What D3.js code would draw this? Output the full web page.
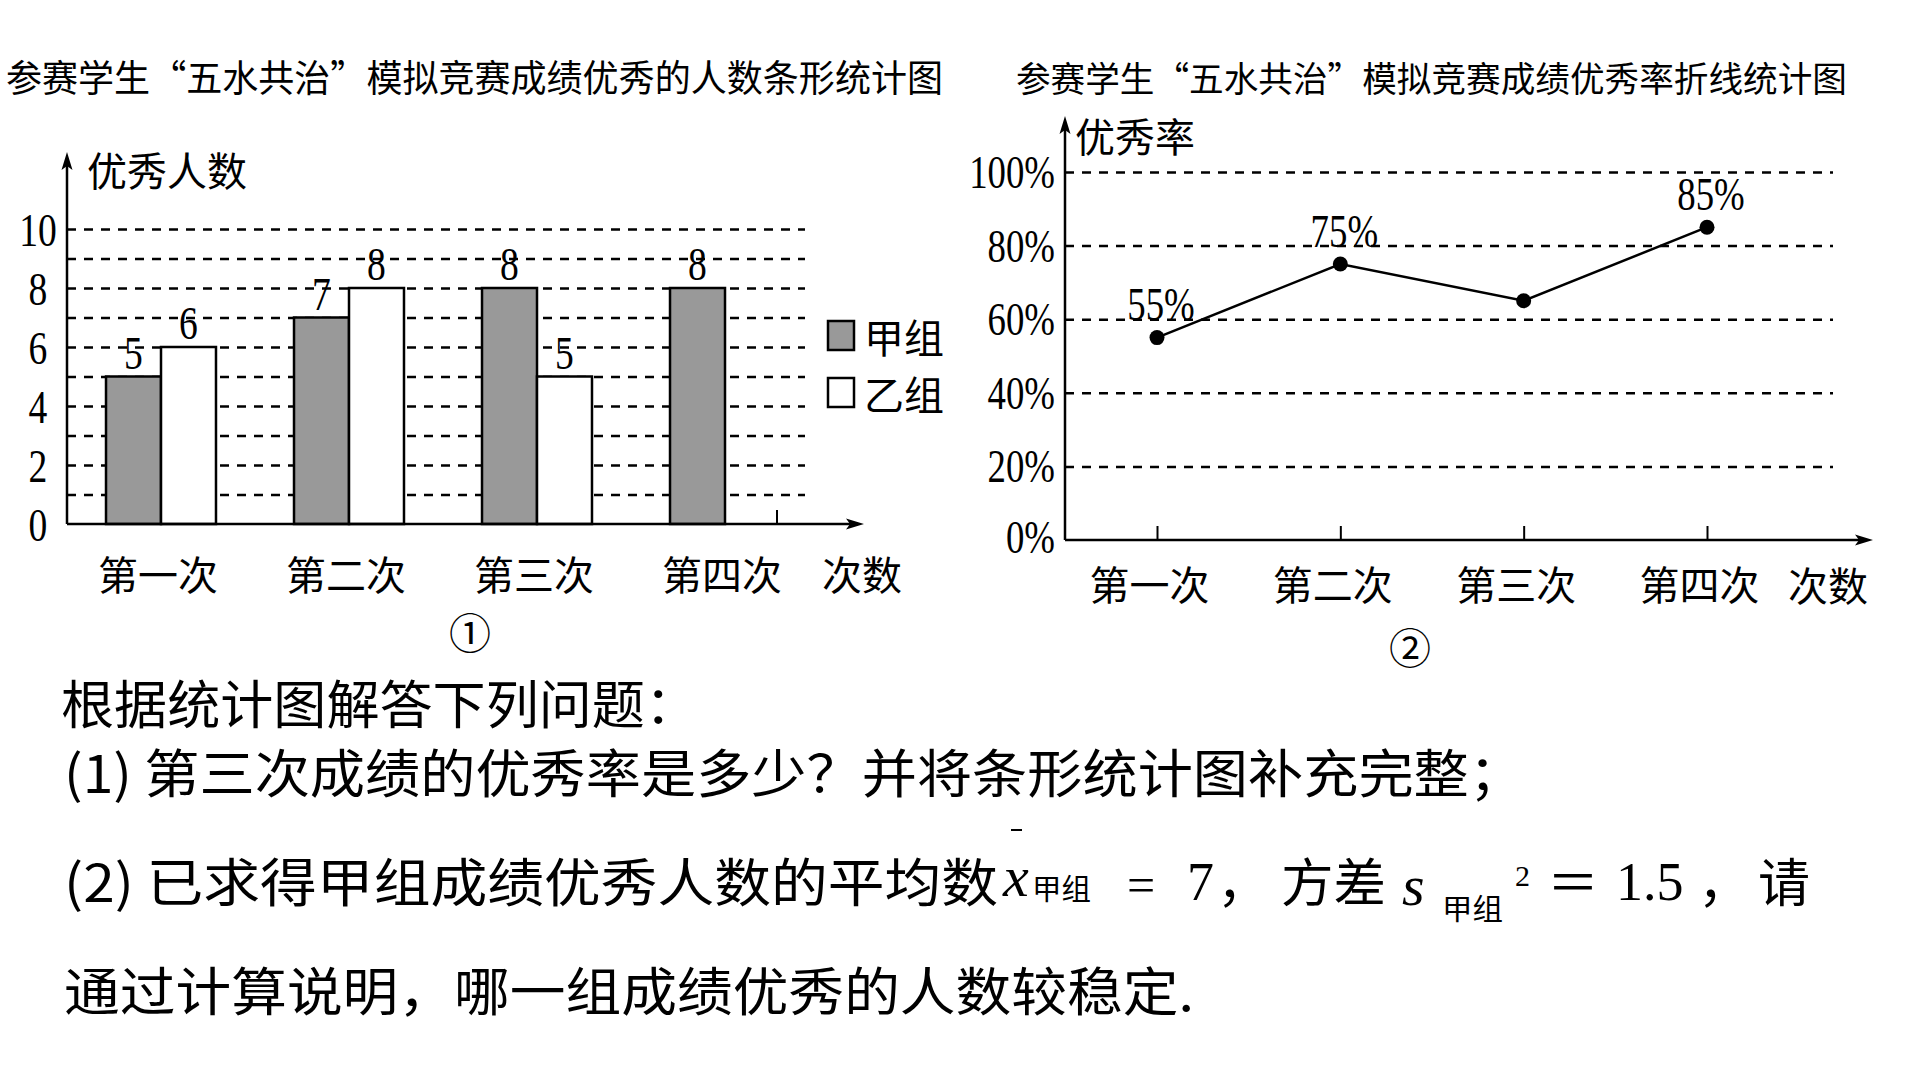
<!DOCTYPE html>
<html>
<head>
<meta charset="utf-8">
<script src="https://cdnjs.cloudflare.com/ajax/libs/d3/7.8.5/d3.min.js"></script>
<style>
  html, body { margin: 0; padding: 0; background: #fff; }
  svg { display: block; }
  .cjk { font-family: "Noto Sans CJK SC", sans-serif; fill: #000; }
  .num { font-family: "Liberation Serif", "Times New Roman", serif; fill: #000; }
</style>
</head>
<body>
<svg id="chart" width="1920" height="1080"></svg>
<script>
// ---- data ----
var categories = ["第一次", "第二次", "第三次", "第四次"];
var groups = ["甲组", "乙组"];
var jiaCounts = [5, 7, 8, 8];
var yiCounts = [6, 8, 5, null];      // 第四次 乙组 is left blank in the picture
var countTicks = [0, 2, 4, 6, 8, 10];

var rates = [55, 75, 65, 85];
var rateLabels = ["55%", "75%", "", "85%"];   // third one is the question
var rateTicks = [0, 20, 40, 60, 80, 100];

var svg = d3.select("#chart");

// squeeze text a little so the serif digits look like the tall narrow ones in the scan
function squeeze(sel, k) {
  sel.each(function() {
    var w = this.getComputedTextLength();
    d3.select(this).attr("textLength", w * k).attr("lengthAdjust", "spacingAndGlyphs");
  });
}

function arrow(g, x, y, dir) {
  // dir: "up" or "right"
  var p = dir == "up"
    ? [[x, y], [x - 5.5, y + 18], [x, y + 14], [x + 5.5, y + 18]]
    : [[x, y], [x - 18, y - 5.5], [x - 14, y], [x - 18, y + 5.5]];
  g.append("path").attr("d", "M" + p.join("L") + "Z").attr("fill", "#000");
}

function dashGrid(g) {
  g.select(".domain").remove();
  g.selectAll(".tick line")
    .attr("stroke", "#000").attr("stroke-width", 2.5)
    .attr("stroke-dasharray", "9,8");
}

/* titles */
svg.append("text").attr("class", "cjk")
  .attr("x", 6).attr("y", 76).attr("dominant-baseline", "central")
  .attr("font-size", 37).attr("textLength", 937).attr("lengthAdjust", "spacingAndGlyphs")
  .text("参赛学生“五水共治”模拟竞赛成绩优秀的人数条形统计图");
svg.append("text").attr("class", "cjk")
  .attr("x", 1016).attr("y", 76).attr("dominant-baseline", "central")
  .attr("font-size", 35).attr("textLength", 831).attr("lengthAdjust", "spacingAndGlyphs")
  .text("参赛学生“五水共治”模拟竞赛成绩优秀率折线统计图");

/* ---------- chart 1: bars ---------- */
var b = svg.append("g");
var x0 = d3.scaleBand().domain(categories).range([67, 67 + 188 * 4])
  .paddingInner(0.415).paddingOuter(0.2075);
var x1 = d3.scaleBand().domain(groups).range([0, x0.bandwidth()]);
var y = d3.scaleLinear().domain([0, 10]).range([524, 229]);

b.append("g").attr("transform", "translate(67,0)")
  .call(d3.axisLeft(y).tickValues(d3.range(1, 11)).tickSize(-(805 - 67)).tickFormat(""))
  .call(dashGrid);

var yl = b.append("g").attr("transform", "translate(67,0)")
  .call(d3.axisLeft(y).tickValues(countTicks).tickSize(0).tickFormat(d3.format("d")));
yl.select(".domain").remove();
yl.selectAll("text")
  .attr("class", "num").attr("x", -29).attr("dy", null)
  .attr("dominant-baseline", "central").attr("text-anchor", "middle")
  .attr("font-size", 47).call(squeeze, 0.8);

var rows = [];
categories.forEach(function(c, i) {
  rows.push({cat: c, grp: "甲组", v: jiaCounts[i]});
  rows.push({cat: c, grp: "乙组", v: yiCounts[i]});
});
rows = rows.filter(function(d) { return d.v != null; });

b.selectAll("rect.bar").data(rows).enter().append("rect")
  .attr("class", "bar")
  .attr("x", function(d) { return x0(d.cat) + x1(d.grp); })
  .attr("y", function(d) { return y(d.v); })
  .attr("width", x1.bandwidth())
  .attr("height", function(d) { return y(0) - y(d.v); })
  .attr("fill", function(d) { return d.grp == "甲组" ? "#999" : "#fff"; })
  .attr("stroke", "#000").attr("stroke-width", 2.5);

b.selectAll("text.val").data(rows).enter().append("text")
  .attr("class", "num val")
  .attr("x", function(d) { return x0(d.cat) + x1(d.grp) + x1.bandwidth() / 2; })
  .attr("y", function(d) { return y(d.v) - 24; })
  .attr("text-anchor", "middle").attr("dominant-baseline", "central")
  .attr("font-size", 47)
  .text(function(d) { return d.v; })
  .call(squeeze, 0.8);

// axes with arrows
b.append("path").attr("d", "M67,524V160").attr("stroke", "#000").attr("stroke-width", 2.5);
arrow(b, 67, 152, "up");
b.append("path").attr("d", "M67,524H858").attr("stroke", "#000").attr("stroke-width", 2.5);
arrow(b, 864, 524, "right");
var endX = x0("第四次") + x0.bandwidth() - 3;
b.append("path").attr("d", "M" + endX + ",524V510").attr("stroke", "#000").attr("stroke-width", 2);

var xl = b.append("g").attr("transform", "translate(0,524)")
  .call(d3.axisBottom(x0).tickSize(0));
xl.select(".domain").remove();
xl.selectAll("text")
  .attr("class", "cjk").attr("x", -3).attr("y", 49).attr("dy", null)
  .attr("dominant-baseline", "central").attr("font-size", 40);
b.append("text").attr("class", "cjk").attr("x", 862).attr("y", 573)
  .attr("text-anchor", "middle").attr("dominant-baseline", "central")
  .attr("font-size", 40).text("次数");
b.append("text").attr("class", "cjk").attr("x", 87).attr("y", 169)
  .attr("dominant-baseline", "central").attr("font-size", 40).text("优秀人数");

// legend
var lg = b.selectAll("g.lg").data(groups).enter().append("g")
  .attr("class", "lg")
  .attr("transform", function(d, i) { return "translate(828," + (321 + i * 57) + ")"; });
lg.append("rect").attr("width", 26).attr("height", 29)
  .attr("fill", function(d) { return d == "甲组" ? "#999" : "#fff"; })
  .attr("stroke", "#000").attr("stroke-width", 2.5);
lg.append("text").attr("class", "cjk").attr("x", 36).attr("y", 15)
  .attr("dominant-baseline", "central").attr("font-size", 40)
  .text(function(d) { return d; });

b.append("text").attr("class", "cjk").attr("x", 470).attr("y", 630)
  .attr("text-anchor", "middle").attr("dominant-baseline", "central")
  .attr("font-size", 42).text("①");

/* ---------- chart 2: line ---------- */
var l = svg.append("g");
var xr = d3.scalePoint().domain(categories).range([1157, 1707]);
var yr = d3.scaleLinear().domain([0, 100]).range([540, 172]);

l.append("g").attr("transform", "translate(1065,0)")
  .call(d3.axisLeft(yr).tickValues(rateTicks.slice(1)).tickSize(-(1833 - 1065)).tickFormat(""))
  .call(dashGrid);

var ryl = l.append("g").attr("transform", "translate(1065,0)")
  .call(d3.axisLeft(yr).tickValues(rateTicks).tickSize(0).tickPadding(10)
    .tickFormat(function(d) { return d + "%"; }));
ryl.select(".domain").remove();
ryl.selectAll("text")
  .attr("class", "num").attr("dy", null).attr("dominant-baseline", "central")
  .attr("font-size", 46).call(squeeze, 0.8);
ryl.selectAll(".tick").filter(function(d) { return d == 0; }).select("text").attr("y", -3);

var rxt = l.append("g").attr("transform", "translate(0,540)")
  .call(d3.axisBottom(xr).tickSize(-14).tickFormat(""));
rxt.select(".domain").remove();
rxt.selectAll(".tick line").attr("stroke", "#000").attr("stroke-width", 2);

var rxl = l.append("g").attr("transform", "translate(0,540)")
  .call(d3.axisBottom(xr).tickSize(0));
rxl.select(".domain").remove();
rxl.selectAll("text")
  .attr("class", "cjk").attr("x", -8).attr("y", 43).attr("dy", null)
  .attr("dominant-baseline", "central").attr("font-size", 40);

var pts = categories.map(function(c, i) { return {cat: c, v: rates[i], label: rateLabels[i]}; });
l.append("path").datum(pts)
  .attr("d", d3.line().x(function(d) { return xr(d.cat); }).y(function(d) { return yr(d.v); }))
  .attr("fill", "none").attr("stroke", "#000").attr("stroke-width", 2.5);
l.selectAll("circle").data(pts).enter().append("circle")
  .attr("cx", function(d) { return xr(d.cat); })
  .attr("cy", function(d) { return yr(d.v); })
  .attr("r", 7.5).attr("fill", "#000");
l.selectAll("text.pl").data(pts.filter(function(d) { return d.label; })).enter().append("text")
  .attr("class", "num pl")
  .attr("x", function(d) { return xr(d.cat) + 4; })
  .attr("y", function(d) { return yr(d.v) - 33; })
  .attr("text-anchor", "middle").attr("dominant-baseline", "central")
  .attr("font-size", 46)
  .text(function(d) { return d.label; })
  .call(squeeze, 0.8);

l.append("path").attr("d", "M1065,540V124").attr("stroke", "#000").attr("stroke-width", 2.5);
arrow(l, 1065, 116, "up");
l.append("path").attr("d", "M1065,540H1866").attr("stroke", "#000").attr("stroke-width", 2.5);
arrow(l, 1873, 540, "right");

l.append("text").attr("class", "cjk").attr("x", 1075).attr("y", 135)
  .attr("dominant-baseline", "central").attr("font-size", 40).text("优秀率");
l.append("text").attr("class", "cjk").attr("x", 1828).attr("y", 584)
  .attr("text-anchor", "middle").attr("dominant-baseline", "central")
  .attr("font-size", 40).text("次数");
l.append("text").attr("class", "cjk").attr("x", 1410).attr("y", 645)
  .attr("text-anchor", "middle").attr("dominant-baseline", "central")
  .attr("font-size", 42).text("②");

/* ---------- question text ---------- */
var q = svg.append("g");
function line(x, yb, size, len, s, cls) {
  var t = q.append("text").attr("class", cls || "cjk")
    .attr("x", x).attr("y", yb).attr("font-size", size).text(s);
  if (len) t.attr("textLength", len).attr("lengthAdjust", "spacingAndGlyphs");
  return t;
}
line(61, 724, 52, 637, "根据统计图解答下列问题：");
line(64, 793, 52, 1460, "(1) 第三次成绩的优秀率是多少？并将条形统计图补充完整；");
line(64, 902, 52, 934, "(2) 已求得甲组成绩优秀人数的平均数");
line(1003, 896, 58, null, "x", "num").attr("font-style", "italic");
q.append("path").attr("d", "M1011,830H1022").attr("stroke", "#000").attr("stroke-width", 2);
line(1032, 900, 29, 59, "甲组");
line(1127, 902, 50, null, "=", "num");
line(1187, 900, 54, null, "7", "num");
line(1217, 902, 52, null, "，");
line(1281, 902, 52, 105, "方差");
line(1402, 905, 58, null, "s", "num").attr("font-style", "italic");
line(1442, 920, 29, 61, "甲组");
line(1515, 886, 30, null, "2", "num");
line(1573, 902, 52, null, "＝").attr("text-anchor", "middle");
line(1616, 900, 54, null, "1.5", "num");
line(1698, 902, 52, null, "，");
line(1758, 902, 52, null, "请");
line(64, 1011, 52, 1130, "通过计算说明，哪一组成绩优秀的人数较稳定.");
</script>
</body>
</html>
